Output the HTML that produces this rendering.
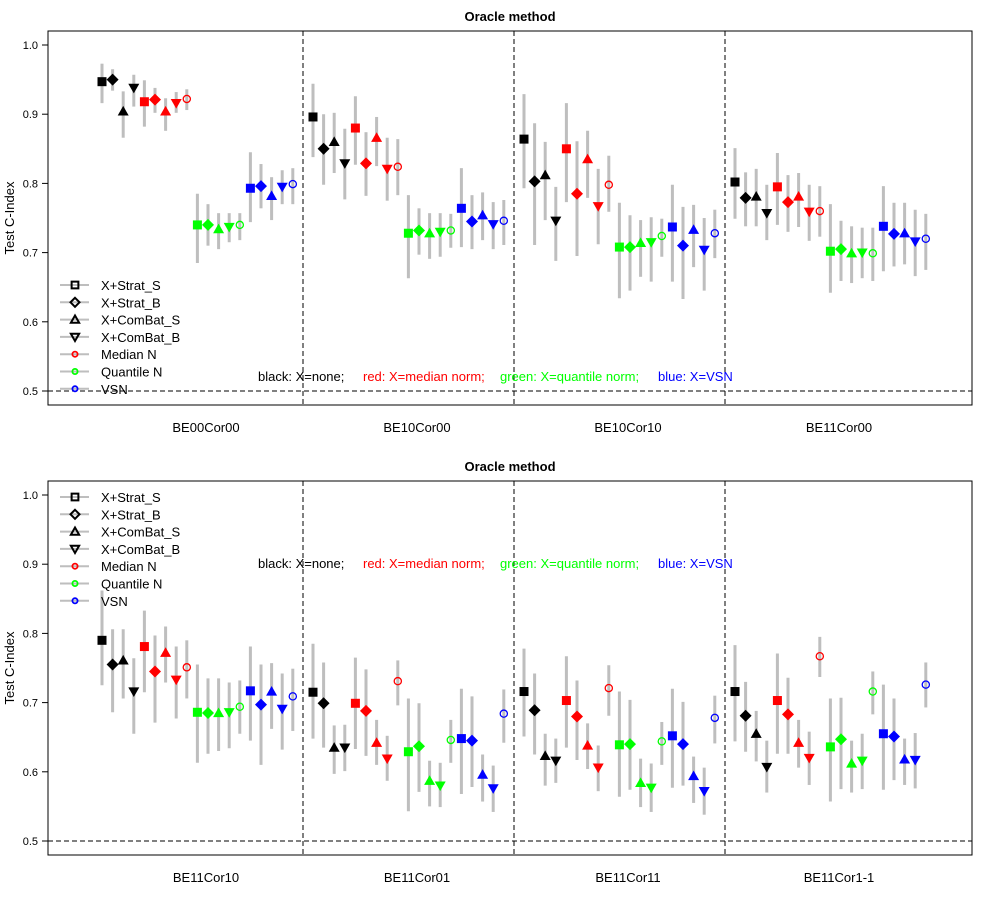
<!DOCTYPE html>
<html><head><meta charset="utf-8"><style>
html,body{margin:0;padding:0;background:#fff;}
svg{display:block;font-family:"Liberation Sans",Arial,sans-serif;}
</style></head><body>
<svg id="chart" width="1000" height="900" viewBox="0 0 1000 900"></svg>
<script>
// ---- data ----
const groupsTop = ["BE00Cor00","BE10Cor00","BE10Cor10","BE11Cor00"];
const groupsBottom = ["BE11Cor10","BE11Cor01","BE11Cor11","BE11Cor1-1"];
const seriesNames = ["X+Strat_S","X+Strat_B","X+ComBat_S","X+ComBat_B","Median N","Quantile N","VSN"];
const yTicks = [0.5,0.6,0.7,0.8,0.9,1.0];
const yTickLabels = ["0.5","0.6","0.7","0.8","0.9","1.0"];
// per group: 19 points (black x4, red x5, green x5, blue x5)
const topVal = [
 [.947,.950,.904,.938,.918,.921,.904,.916,.922,.740,.740,.734,.737,.740,.793,.796,.782,.795,.799],
 [.896,.850,.860,.829,.880,.829,.866,.821,.824,.728,.732,.728,.730,.732,.764,.745,.754,.741,.746],
 [.864,.803,.812,.746,.850,.785,.835,.767,.798,.708,.708,.714,.715,.724,.737,.710,.733,.704,.728],
 [.802,.779,.781,.757,.795,.773,.781,.759,.760,.702,.705,.699,.700,.699,.738,.727,.728,.716,.720]];
const topLo = [
 [.916,.934,.866,.911,.882,.902,.876,.902,.906,.685,.710,.705,.715,.718,.744,.764,.747,.770,.770],
 [.838,.798,.815,.777,.827,.782,.825,.775,.783,.663,.697,.691,.694,.707,.708,.705,.718,.705,.711],
 [.793,.711,.747,.688,.773,.695,.779,.712,.759,.634,.645,.665,.658,.694,.658,.633,.679,.645,.692],
 [.749,.738,.738,.718,.740,.730,.737,.717,.723,.642,.659,.656,.663,.659,.673,.680,.683,.666,.675]];
const topHi = [
 [.973,.965,.933,.957,.949,.938,.923,.932,.936,.785,.770,.757,.757,.757,.845,.828,.809,.819,.822],
 [.944,.900,.902,.879,.926,.874,.896,.866,.864,.783,.764,.757,.757,.756,.822,.783,.787,.773,.776],
 [.929,.887,.860,.795,.916,.861,.876,.821,.840,.772,.754,.747,.751,.749,.798,.766,.769,.750,.762],
 [.851,.816,.821,.798,.844,.812,.815,.798,.796,.770,.746,.738,.736,.736,.796,.772,.772,.762,.756]];
const botVal = [
 [.790,.755,.761,.716,.781,.745,.772,.733,.751,.686,.685,.685,.686,.694,.717,.697,.716,.691,.709],
 [.715,.699,.635,.635,.699,.688,.642,.619,.731,.629,.637,.587,.580,.646,.648,.645,.596,.576,.684],
 [.716,.689,.623,.616,.703,.680,.638,.606,.721,.639,.640,.584,.577,.644,.652,.640,.594,.572,.678],
 [.716,.681,.655,.607,.703,.683,.642,.620,.767,.636,.647,.612,.616,.716,.655,.651,.618,.617,.726]];
const botLo = [
 [.725,.686,.706,.655,.715,.671,.729,.677,.706,.613,.626,.630,.634,.655,.645,.610,.662,.632,.659],
 [.648,.635,.597,.601,.633,.623,.610,.587,.696,.543,.571,.550,.549,.613,.568,.578,.557,.542,.642],
 [.651,.625,.580,.584,.635,.617,.604,.572,.681,.564,.574,.549,.542,.610,.577,.580,.555,.538,.641],
 [.644,.629,.615,.570,.626,.626,.606,.581,.737,.557,.575,.570,.575,.683,.574,.588,.581,.576,.693]];
const botHi = [
 [.862,.806,.806,.764,.833,.797,.810,.781,.790,.755,.735,.735,.729,.732,.781,.755,.757,.742,.749],
 [.785,.758,.667,.668,.765,.748,.675,.652,.761,.706,.699,.616,.613,.675,.720,.709,.625,.609,.719],
 [.778,.742,.655,.648,.767,.732,.670,.638,.754,.716,.704,.619,.612,.672,.720,.701,.622,.606,.710],
 [.783,.730,.688,.645,.771,.736,.675,.658,.795,.706,.707,.645,.655,.745,.726,.706,.648,.656,.758]];

// ---- drawing ----
const NS="http://www.w3.org/2000/svg";
const svg=document.getElementById('chart');
function mk(tag,attrs,parent){const e=document.createElementNS(NS,tag);for(const k in attrs)e.setAttribute(k,attrs[k]);(parent||svg).appendChild(e);return e;}
const colorsOf=["#000000","#000000","#000000","#000000","#ff0000","#ff0000","#ff0000","#ff0000","#ff0000","#00ff00","#00ff00","#00ff00","#00ff00","#00ff00","#0000ff","#0000ff","#0000ff","#0000ff","#0000ff"];
const shapeOf=["sq","dia","up","dn","sq","dia","up","dn","circ","sq","dia","up","dn","circ","sq","dia","up","dn","circ"];
function xPos(g,i){return 102+211*g+10.6*i;}
function marker(parent,shape,x,y,col,filled,sz){
  sz=sz||1;let e;
  if(shape==="sq"){e=mk('rect',{x:x-4.5*sz,y:y-4.5*sz,width:9*sz,height:9*sz},parent);}
  else if(shape==="dia"){const r=6*sz;e=mk('polygon',{points:`${x},${y-r} ${x+r},${y} ${x},${y+r} ${x-r},${y}`},parent);}
  else if(shape==="up"){const r=5.5*sz;e=mk('polygon',{points:`${x},${y-r} ${x+r},${y+r*0.75} ${x-r},${y+r*0.75}`},parent);}
  else if(shape==="dn"){const r=5.5*sz;e=mk('polygon',{points:`${x},${y+r} ${x+r},${y-r*0.75} ${x-r},${y-r*0.75}`},parent);}
  else {e=mk('circle',{cx:x,cy:y,r:3.6*sz},parent);}
  if(filled){e.setAttribute('fill',col);}else{e.setAttribute('fill','none');e.setAttribute('stroke',col);e.setAttribute('stroke-width',1.3);}
  return e;
}
function panel(top,groups,val,lo,hi,legendY0,annotY,pname){
  const left=48,right=972,ptop=top,pbot=top+374;
  const y1=top+14, y05=top+360;
  const yS=v=>y05-(v-0.5)/0.5*(y05-y1);
  const g=mk('g',{},svg);
  
  
  const t=mk('text',{x:510,y:top-10,'text-anchor':'middle','font-size':13,'font-weight':'bold'},g);
  t.textContent="Oracle method";
  
  
  const yt=mk('text',{x:14,y:(ptop+pbot)/2,'text-anchor':'middle','font-size':13,transform:`rotate(-90 14 ${(ptop+pbot)/2})`},g);
  yt.textContent="Test C-Index";
  
  
  yTicks.forEach((v,k)=>{
    const y=yS(v);
    const tk=mk('line',{x1:42,x2:48,y1:y,y2:y,stroke:'#000'},g);
    
    
    const tl=mk('text',{x:38,y:y+4,'text-anchor':'end','font-size':11},g);
    tl.textContent=yTickLabels[k];
    
    
  });
  const ref=mk('line',{x1:left,x2:right,y1:yS(0.5),y2:yS(0.5),stroke:'#000','stroke-dasharray':'5,3'},g);
  
  
  for(let k=1;k<4;k++){
    const xd=92+211*k;
    const dl=mk('line',{x1:xd,x2:xd,y1:ptop,y2:pbot,stroke:'#000','stroke-dasharray':'5,3'},g);
    
    
  }
  groups.forEach((name,gi)=>{
    const gl=mk('text',{x:206+211*gi,y:pbot+27,'text-anchor':'middle','font-size':13},g);
    gl.textContent=name;
    
    
    for(let i=0;i<19;i++){
      const x=xPos(gi,i);
      const eb=mk('line',{x1:x,x2:x,y1:yS(lo[gi][i]),y2:yS(hi[gi][i]),stroke:'#bebebe','stroke-width':3},g);
      
      
    }
    for(let i=0;i<19;i++){
      const m=marker(g,shapeOf[i],xPos(gi,i),yS(val[gi][i]),colorsOf[i],shapeOf[i]!=="circ");
      
      
    }
  });
  // legend
  const legShapes=["sq","dia","up","dn","circ","circ","circ"];
  const legCols=["#000","#000","#000","#000","#ff0000","#00ff00","#0000ff"];
  seriesNames.forEach((nm,k)=>{
    const y=legendY0+k*17.3;
    const ll=mk('line',{x1:60,x2:89,y1:y,y2:y,stroke:'#bebebe','stroke-width':2},g);
    
    
    let m;
    if(k<4){m=marker(g,legShapes[k],75,y,'#000',false,0.75);m.setAttribute('stroke-width',2);}
    else{m=mk('circle',{cx:75,cy:y,r:2.6,fill:'none',stroke:legCols[k],'stroke-width':1.8},g);}
    
    
    const lt=mk('text',{x:101,y:y+5,'font-size':13},g);
    lt.textContent=nm;
    
    
  });
  const ann=[["black: X=none;",258,"#000"],["red: X=median norm;",363,"#ff0000"],["green: X=quantile norm;",500,"#00ff00"],["blue: X=VSN",658,"#0000ff"]];
  ann.forEach(a=>{
    const at=mk('text',{x:a[1],y:annotY,'font-size':13,fill:a[2]},g);
    at.textContent=a[0];
    
    
  });
  const box=mk('rect',{x:left,y:ptop,width:right-left,height:pbot-ptop,fill:'none',stroke:'#000','stroke-width':1},g);
  
  
}
panel(31,groupsTop,topVal,topLo,topHi,285,381,'top-panel');
panel(481,groupsBottom,botVal,botLo,botHi,497,568,'bottom-panel');
</script>
</body></html>
